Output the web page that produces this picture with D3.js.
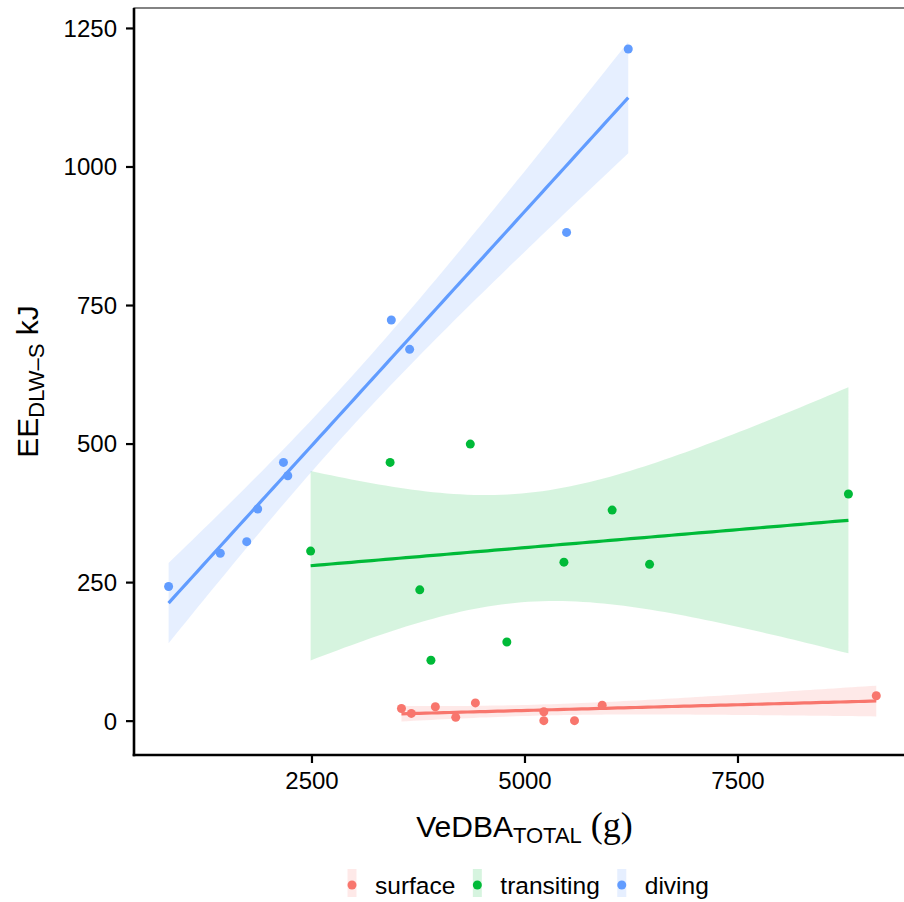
<!DOCTYPE html>
<meta charset="utf-8">
<script src="https://d3js.org/d3.v7.min.js"></script>
<style>
  body { margin: 0; background: #fff; }
  text { font-family: "Liberation Sans", Arial, sans-serif; fill: #000; }
</style>
<div id="chart"></div>
<script>

// data
var groups = ["surface", "transiting", "diving"];
var colors = ["#F8766D", "#00BA38", "#619CFF"];

var surfaceX = [3556, 3672, 3954, 4193, 4424, 5227, 5227, 5587, 5912, 9129];
var surfaceY = [22, 13, 25, 6, 32, 16, 0, 0, 28, 45];

var transitingX = [2490, 3423, 4364, 3771, 3902, 4793, 5463, 6029, 6468, 8802];
var transitingY = [306, 466, 499, 236, 109, 142, 286, 380, 282, 409];

var divingX = [823, 1430, 1740, 1869, 2171, 2222, 3437, 3652, 5494, 6218];
var divingY = [242, 302, 323, 382, 466, 442, 723, 670, 881, 1212];

var xTicks = [2500, 5000, 7500];
var yTicks = [0, 250, 500, 750, 1000, 1250];

var seriesX = [surfaceX, transitingX, divingX];
var seriesY = [surfaceY, transitingY, divingY];

// panel
var W = 904, H = 902;
var pLeft = 134, pRight = 909, pTop = 8, pBottom = 755;

var svg = d3.select("#chart").append("svg")
  .attr("width", W).attr("height", H);

svg.append("rect").attr("width", W).attr("height", H).attr("fill", "#fff");

var x = d3.scaleLinear().domain([417, 9513]).range([pLeft, pRight]);
var y = d3.scaleLinear().domain([-62, 1286]).range([pBottom, pTop]);

// t quantile (Cornish-Fisher expansion), 95% two-sided
function qt975(df) {
  var z = 1.959964, z3 = z*z*z, z5 = z3*z*z, z7 = z5*z*z;
  return z + (z3 + z) / (4*df)
    + (5*z5 + 16*z3 + 3*z) / (96*df*df)
    + (3*z7 + 19*z5 + 17*z3 - 15*z) / (384*df*df*df);
}

// lm fit with confidence band, like geom_smooth(method = "lm")
function lmFit(xs, ys) {
  var n = xs.length;
  var mx = d3.mean(xs), my = d3.mean(ys);
  var sxx = d3.sum(xs, function(v) { return (v - mx) * (v - mx); });
  var sxy = d3.sum(xs, function(v, i) { return (v - mx) * (ys[i] - my); });
  var b = sxy / sxx, a = my - b * mx;
  var sse = d3.sum(xs, function(v, i) { var r = ys[i] - (a + b * v); return r * r; });
  var s = Math.sqrt(sse / (n - 2));
  var t = qt975(n - 2);
  var ext = d3.extent(xs);
  return d3.range(80).map(function(k) {
    var xv = ext[0] + (ext[1] - ext[0]) * k / 79;
    var fit = a + b * xv;
    var se = s * Math.sqrt(1 / n + (xv - mx) * (xv - mx) / sxx);
    return { x: xv, fit: fit, lo: fit - t * se, hi: fit + t * se };
  });
}

var fits = groups.map(function(g, i) { return lmFit(seriesX[i], seriesY[i]); });

// ribbons
fits.forEach(function(pts, i) {
  svg.append("path")
    .datum(pts)
    .attr("fill", colors[i])
    .attr("fill-opacity", 0.16)
    .attr("d", d3.area()
      .x(function(d) { return x(d.x); })
      .y0(function(d) { return y(d.lo); })
      .y1(function(d) { return y(d.hi); }));
});

// fit lines
fits.forEach(function(pts, i) {
  svg.append("path")
    .datum(pts)
    .attr("fill", "none")
    .attr("stroke", colors[i])
    .attr("stroke-width", 3.2)
    .attr("d", d3.line()
      .x(function(d) { return x(d.x); })
      .y(function(d) { return y(d.fit); }));
});

// points
groups.forEach(function(g, i) {
  svg.append("g").selectAll("circle")
    .data(seriesX[i].map(function(v, k) { return [v, seriesY[i][k]]; }))
    .enter().append("circle")
      .attr("cx", function(d) { return x(d[0]); })
      .attr("cy", function(d) { return y(d[1]); })
      .attr("r", 4.5)
      .attr("fill", colors[i]);
});

// panel border (thin) + axis lines (thick)
svg.append("rect")
  .attr("x", pLeft).attr("y", pTop)
  .attr("width", pRight - pLeft).attr("height", pBottom - pTop)
  .attr("fill", "none").attr("stroke", "#333").attr("stroke-width", 1.2);

svg.append("line")
  .attr("x1", pLeft).attr("x2", pLeft).attr("y1", pTop).attr("y2", pBottom + 1.3)
  .attr("stroke", "#000").attr("stroke-width", 2.6);
svg.append("line")
  .attr("x1", pLeft - 1.3).attr("x2", pRight).attr("y1", pBottom).attr("y2", pBottom)
  .attr("stroke", "#000").attr("stroke-width", 2.6);

// axes
var xAxis = svg.append("g")
  .attr("transform", "translate(0," + pBottom + ")")
  .call(d3.axisBottom(x).tickValues(xTicks).tickSize(8).tickPadding(9).tickFormat(d3.format("d")));
var yAxis = svg.append("g")
  .attr("transform", "translate(" + pLeft + ",0)")
  .call(d3.axisLeft(y).tickValues(yTicks).tickSize(8).tickPadding(9).tickFormat(d3.format("d")));

[xAxis, yAxis].forEach(function(ax) {
  ax.select(".domain").remove();
  ax.selectAll(".tick line").attr("stroke", "#000").attr("stroke-width", 2.2);
  ax.selectAll(".tick text")
    .attr("fill", "#000")
    .style("font-family", "'Liberation Sans', Arial, sans-serif")
    .style("font-size", "24px");
});
yAxis.selectAll(".tick text").attr("dy", "0.35em");

// x axis title
var xt = svg.append("text")
  .attr("x", (pLeft + pRight) / 2 + 3).attr("y", 837)
  .attr("text-anchor", "middle")
  .style("font-size", "30px");
xt.append("tspan").text("VeDBA");
xt.append("tspan").attr("dy", 6).style("font-size", "22px").text("TOTAL");
xt.append("tspan").attr("dy", -6)
  .style("font-family", "'Liberation Serif', 'Times New Roman', serif")
  .style("font-size", "36px")
  .text(" (g)");

// y axis title
var yt = svg.append("text")
  .attr("transform", "translate(38," + (pTop + pBottom) / 2 + ") rotate(-90)")
  .attr("text-anchor", "middle")
  .style("font-size", "30px");
yt.append("tspan").text("EE");
yt.append("tspan").attr("dy", 6).style("font-size", "22px").text("DLW\u2013S");
yt.append("tspan").attr("dy", -6).text(" kJ");

// legend
var legend = svg.append("g");
var cx = 352;
groups.forEach(function(g, i) {
  legend.append("rect")
    .attr("x", cx - 4.5).attr("y", 869).attr("width", 9).attr("height", 28)
    .attr("fill", colors[i]).attr("fill-opacity", 0.16);
  legend.append("circle")
    .attr("cx", cx).attr("cy", 885).attr("r", 4.5).attr("fill", colors[i]);
  var t = legend.append("text")
    .attr("x", cx + 23).attr("y", 894)
    .style("font-size", "24.5px")
    .text(g);
  cx = cx + 23 + t.node().getComputedTextLength() + 22;
});

</script>
